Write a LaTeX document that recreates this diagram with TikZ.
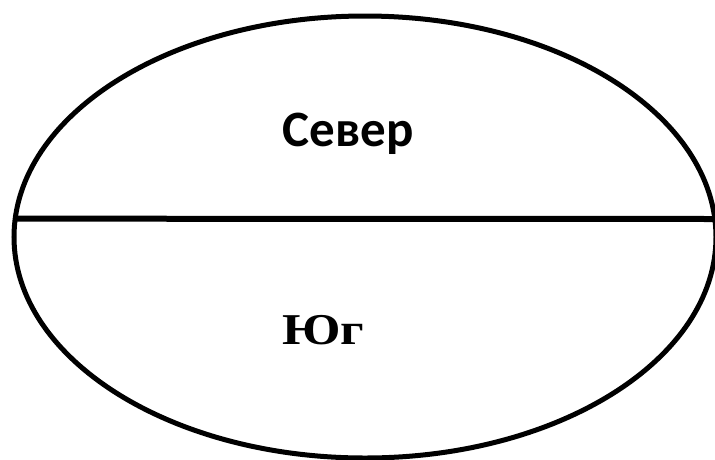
\documentclass[tikz,border=0pt]{standalone}
\usepackage{fontspec}
\usetikzlibrary{shapes.geometric}
\newfontfamily\sansbold{Carlito}[BoldFont=* Bold]
\newfontfamily\serifbold{Liberation Serif}
\begin{document}
\begin{tikzpicture}[x=1pt,y=-1pt,
globe/.style={draw,ellipse,line width=5pt,outer sep=0pt,inner sep=0pt,minimum width=702pt,minimum height=442pt},
north/.style={font=\sansbold\bfseries\fontsize{51}{58}\selectfont,anchor=base},
south/.style={font=\serifbold\bfseries\fontsize{44}{50}\selectfont,anchor=base west,xscale=1.18}]
\useasboundingbox (0,0) rectangle (715,459);
\node[globe] (earth) at (365,237) {};
\coordinate (edge) at (720,219);
\draw[line width=6pt] (earth.177) -- (edge);
\node[north] (sever) at (348,146) {Север};
\node[south] (yug) at (278,344) {Юг};
\end{tikzpicture}
\end{document}
